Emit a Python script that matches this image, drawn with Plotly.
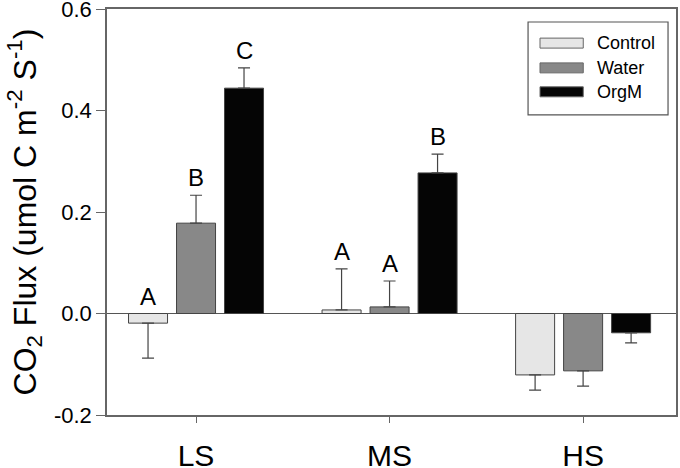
import plotly.graph_objects as go

sites = ["LS", "MS", "HS"]
treatments = ["Control", "Water", "OrgM"]
control_mean = [-0.019, 0.007, -0.121]
control_err = [0.069, 0.081, 0.030]
water_mean = [0.178, 0.013, -0.113]
water_err = [0.055, 0.051, 0.030]
orgm_mean = [0.444, 0.277, -0.038]
orgm_err = [0.040, 0.037, 0.020]
control_letters = ["A", "A", ""]
water_letters = ["B", "A", ""]
orgm_letters = ["C", "B", ""]
y_ticks = [-0.2, 0.0, 0.2, 0.4, 0.6]
y_tick_labels = ["-0.2", "0.0", "0.2", "0.4", "0.6"]

means = [control_mean, water_mean, orgm_mean]
errs = [control_err, water_err, orgm_err]
letters = [control_letters, water_letters, orgm_letters]
fills = ["#e6e6e6", "#888888", "#050505"]
offsets = [-0.248, 0.0, 0.248]
FONT = "Liberation Sans, Arial, sans-serif"

fig = go.Figure()
annotations = []
shapes = []
for j, name in enumerate(treatments):
    xs = [i + offsets[j] for i in range(len(sites))]
    m = means[j]
    e = errs[j]
    up = [e[i] if m[i] > 0 else 0 for i in range(len(m))]
    dn = [e[i] if m[i] < 0 else 0 for i in range(len(m))]
    fig.add_trace(go.Bar(
        x=xs, y=m, name=name, width=0.2016, showlegend=False,
        marker=dict(color=fills[j], line=dict(color="#444444", width=1)),
        error_y=dict(type="data", symmetric=False, array=up, arrayminus=dn,
                     color="#444444", thickness=1.2, width=6),
    ))
    for i in range(len(sites)):
        if letters[j][i]:
            annotations.append(dict(
                x=xs[i], y=max(m[i], 0) + up[i], xref="x", yref="y",
                text=letters[j][i], showarrow=False, yanchor="bottom",
                yshift=2, font=dict(family=FONT, size=24, color="black"),
            ))

# custom legend (wide swatches like the reference)
shapes.append(dict(type="rect", xref="paper", yref="paper",
                   x0=0.740, x1=0.986, y0=0.739, y1=0.968,
                   line=dict(color="#555555", width=1.2), fillcolor="white"))
row_y = [0.916, 0.855, 0.796]
for j, name in enumerate(treatments):
    shapes.append(dict(type="rect", xref="paper", yref="paper",
                       x0=0.761, x1=0.837, y0=row_y[j] - 0.0123, y1=row_y[j] + 0.0123,
                       line=dict(color="#666666", width=1), fillcolor=fills[j]))
    annotations.append(dict(x=0.857, y=row_y[j], xref="paper", yref="paper",
                            text=name, showarrow=False, xanchor="left", yanchor="middle",
                            font=dict(family=FONT, size=18, color="black")))

fig.update_layout(
    width=680, height=468,
    margin=dict(l=107, r=4, t=9, b=53),
    paper_bgcolor="white", plot_bgcolor="white",
    font=dict(family=FONT, color="black"),
    showlegend=False,
    annotations=annotations,
    shapes=shapes,
)
fig.update_xaxes(
    range=[-0.46, 2.48], tickvals=list(range(len(sites))), ticktext=sites,
    showline=True, linecolor="#666666", linewidth=1.5, mirror=True,
    ticks="outside", ticklen=6, tickcolor="#666666",
    showgrid=False, zeroline=False, automargin=False, ticklabelstandoff=7,
    ticklabeloverflow="allow",
    tickfont=dict(family=FONT, size=30, color="black"),
)
fig.update_yaxes(
    range=[-0.2, 0.600001], tickvals=y_ticks, ticktext=y_tick_labels,
    showline=True, linecolor="#666666", linewidth=1.5, mirror=True,
    ticks="outside", ticklen=9, tickcolor="#666666",
    showgrid=False, zeroline=True, zerolinecolor="#555555", zerolinewidth=1,
    automargin=False, ticklabeloverflow="allow",
    tickfont=dict(family=FONT, size=22, color="black"),
    title=dict(text="CO<sub>2</sub> Flux (umol C m<sup>-2</sup> S<sup>-1</sup>)",
               font=dict(family=FONT, size=32, color="black"), standoff=8),
)
fig.write_html("out.html", config={"displayModeBar": False},
               post_script="document.body.style.margin='0px';")
